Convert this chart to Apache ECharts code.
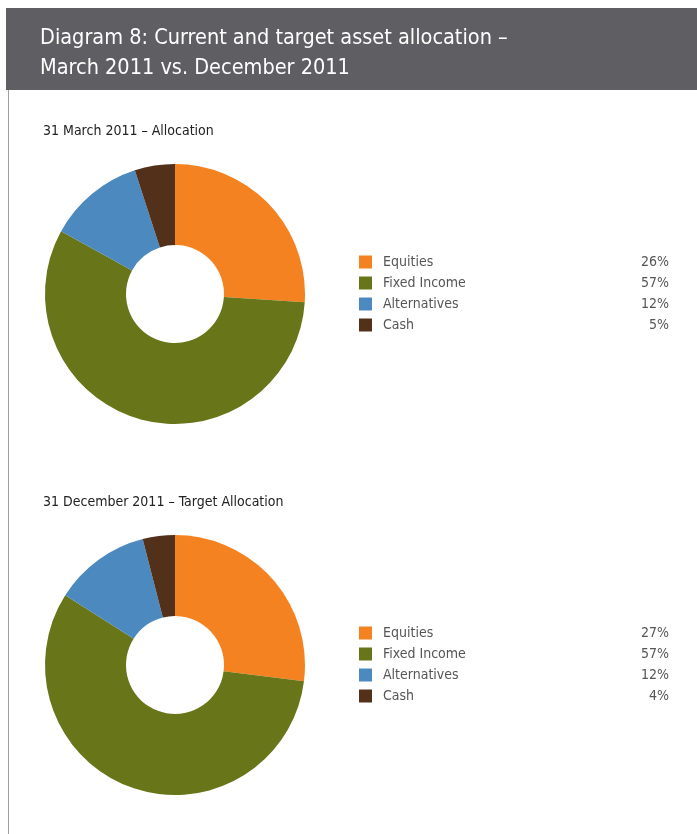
<!DOCTYPE html>
<html>
<head>
<meta charset="utf-8">
<script src="https://cdn.jsdelivr.net/npm/echarts@6/dist/echarts.min.js"></script>
<style>
html,body{margin:0;padding:0;background:#fff;}
#c{width:697px;height:834px;}
</style>
</head>
<body>
<div id="c"></div>
<script>
const categories = ['Equities', 'Fixed Income', 'Alternatives', 'Cash'];
const march2011 = [26, 57, 12, 5];
const dec2011 = [27, 57, 12, 4];
const colors = ['#F58220', '#687518', '#4C89BF', '#53301A'];
const mainTitle = 'Diagram 8: Current and target asset allocation –\nMarch 2011 vs. December 2011';
const subTitle1 = '31 March 2011 – Allocation';
const subTitle2 = '31 December 2011 – Target Allocation';

const FONT = '"Liberation Sans Narrow", "DejaVu Sans Condensed", sans-serif';

function makeData(vals) {
  return categories.map((n, i) => ({ name: n, value: vals[i], itemStyle: { color: colors[i] } }));
}
function makeLegend(vals, top) {
  return {
    left: 359, top: top, orient: 'vertical', selectedMode: false, padding: 0,
    itemWidth: 13, itemHeight: 13, itemGap: 7,
    icon: 'rect',
    data: categories,
    formatter: function (name) {
      const i = categories.indexOf(name);
      return '{n|' + name + '}{p|' + vals[i] + '%}';
    },
    textStyle: {
      fontFamily: FONT, fontSize: 14, color: '#555',
      rich: {
        n: { width: 240, padding: [0, 0, 0, 6], fontFamily: FONT, fontSize: 14, color: '#555' },
        p: { width: 46, align: 'right', fontFamily: FONT, fontSize: 14, color: '#555' }
      }
    }
  };
}

const chart = echarts.init(document.getElementById('c'), null, { renderer: 'canvas' });
chart.setOption({
  animation: false,
  backgroundColor: '#fff',
  graphic: [
    { type: 'rect', left: 6, top: 8, shape: { width: 691, height: 82 }, style: { fill: '#5F5F63' }, z: 0 },
    { type: 'rect', left: 8, top: 90, shape: { width: 1, height: 744 }, style: { fill: '#A0A0A0' }, z: 0 }
  ],
  title: [
    { text: mainTitle, left: 40, top: 23, padding: 0, textStyle: { fontFamily: FONT, fontSize: 21.5, fontWeight: 'normal', color: '#fff', lineHeight: 30 } },
    { text: subTitle1, left: 43, top: 124, padding: 0, textStyle: { fontFamily: FONT, fontSize: 14, fontWeight: 'normal', color: '#222' } },
    { text: subTitle2, left: 43, top: 495, padding: 0, textStyle: { fontFamily: FONT, fontSize: 14, fontWeight: 'normal', color: '#222' } }
  ],
  legend: [makeLegend(march2011, 255), makeLegend(dec2011, 626)],
  series: [
    { type: 'pie', center: [175, 294], radius: [49, 130], startAngle: 90, clockwise: true,
      label: { show: false }, labelLine: { show: false }, silent: true,
      itemStyle: { borderWidth: 0 }, data: makeData(march2011) },
    { type: 'pie', center: [175, 665], radius: [49, 130], startAngle: 90, clockwise: true,
      label: { show: false }, labelLine: { show: false }, silent: true,
      itemStyle: { borderWidth: 0 }, data: makeData(dec2011) }
  ]
});
</script>
</body>
</html>
